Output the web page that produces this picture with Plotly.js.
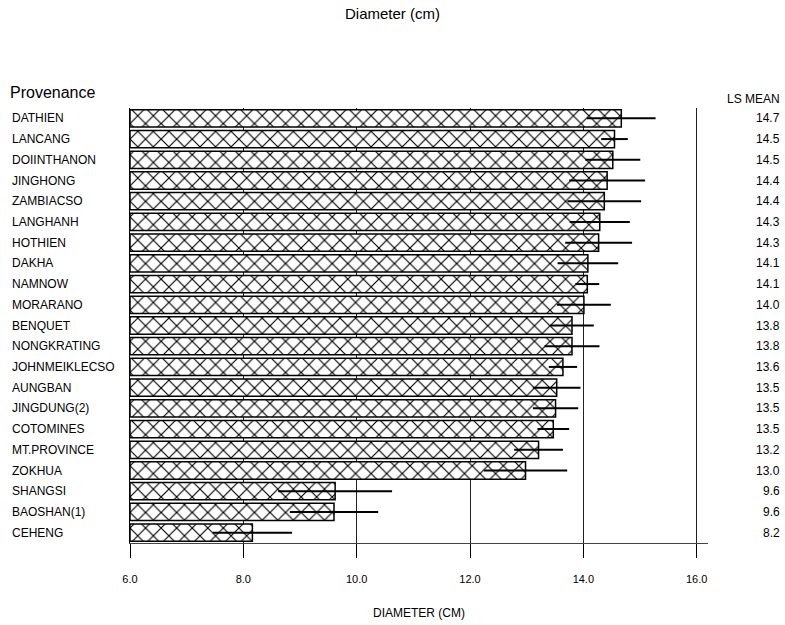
<!DOCTYPE html>
<html>
<head>
<meta charset="utf-8">
<script src="https://cdn.plot.ly/plotly-3.0.1.min.js"></script>
<style>html,body{margin:0;padding:0;background:#fff;}#chart{width:785px;height:625px;}</style>
</head>
<body>
<div id="chart"></div>
<script>
const provenances = ["DATHIEN","LANCANG","DOIINTHANON","JINGHONG","ZAMBIACSO","LANGHANH","HOTHIEN","DAKHA","NAMNOW","MORARANO","BENQUET","NONGKRATING","JOHNMEIKLECSO","AUNGBAN","JINGDUNG(2)","COTOMINES","MT.PROVINCE","ZOKHUA","SHANGSI","BAOSHAN(1)","CEHENG"];
const diameters = [14.67,14.55,14.52,14.42,14.37,14.29,14.27,14.08,14.07,14.01,13.80,13.80,13.64,13.53,13.51,13.47,13.21,12.98,9.62,9.60,8.16];
const errors = [0.605,0.235,0.485,0.67,0.65,0.53,0.59,0.535,0.21,0.476,0.385,0.485,0.25,0.42,0.40,0.28,0.43,0.735,1.005,0.78,0.70];
const lsMeanLabels = ["14.7","14.5","14.5","14.4","14.4","14.3","14.3","14.1","14.1","14.0","13.8","13.8","13.6","13.5","13.5","13.5","13.2","13.0","9.6","9.6","8.2"];
const xTicks = [6,8,10,12,14,16];
const xTickLabels = ["6.0","8.0","10.0","12.0","14.0","16.0"];
const axisOrigin = 6;

const FONT = "Liberation Sans, Arial, Helvetica, sans-serif";

const trace = {
  type: "bar",
  orientation: "h",
  y: provenances,
  x: diameters.map(v => v - axisOrigin),
  base: axisOrigin,
  marker: {
    color: "#ffffff",
    line: {color: "#000000", width: 1.5},
    pattern: {shape: "x", fgcolor: "#000000", bgcolor: "#ffffff", size: 11, solidity: 0.2}
  },
  error_x: {type: "data", array: errors, symmetric: true, color: "#000000", thickness: 2, width: 0},
  hoverinfo: "x+y"
};

const annotations = [];
provenances.forEach((p, i) => {
  annotations.push({xref: "paper", yref: "y", x: -0.2076, y: p, text: p, showarrow: false,
    xanchor: "left", yanchor: "middle", font: {family: FONT, size: 12, color: "#000"}});
  annotations.push({xref: "paper", yref: "y", x: 1.128, y: p, text: lsMeanLabels[i], showarrow: false,
    xanchor: "right", yanchor: "middle", font: {family: FONT, size: 12, color: "#000"}});
});
annotations.push({xref: "paper", yref: "paper", x: -0.2111, y: 1.035, text: "Provenance", showarrow: false,
  xanchor: "left", yanchor: "middle", font: {family: FONT, size: 16, color: "#000"}});
annotations.push({xref: "paper", yref: "paper", x: 1.128, y: 1.021, text: "LS MEAN", showarrow: false,
  xanchor: "right", yanchor: "middle", font: {family: FONT, size: 12, color: "#000"}});

const layout = {
  width: 785, height: 625,
  margin: {l: 130, r: 77, t: 108, b: 82, pad: 0},
  paper_bgcolor: "#fff", plot_bgcolor: "#fff",
  showlegend: false,
  bargap: 0.165,
  font: {family: FONT, size: 11, color: "#000"},
  title: {text: "Diameter (cm)", x: 0.5, xref: "container", xanchor: "center", y: 0.978, yref: "container", yanchor: "middle",
    font: {family: FONT, size: 15, color: "#000"}},
  xaxis: {
    range: [6, 16.2], tickvals: xTicks, ticktext: xTickLabels,
    showgrid: true, gridcolor: "#222", gridwidth: 1, zeroline: false,
    showline: true, linecolor: "#444", linewidth: 1,
    ticks: "outside", ticklen: 14, tickcolor: "#000", tickwidth: 1,
    ticklabelstandoff: 12,
    tickfont: {family: FONT, size: 11, color: "#000"},
    title: {text: "DIAMETER (CM)", standoff: 24, font: {family: FONT, size: 12, color: "#000"}}
  },
  yaxis: {
    type: "category", range: [20.5, -0.5],
    showticklabels: false, ticks: "", showgrid: false, zeroline: false,
    showline: true, linecolor: "#000", linewidth: 1
  },
  annotations: annotations
};

Plotly.newPlot("chart", [trace], layout, {displayModeBar: false, staticPlot: true});
</script>
</body>
</html>
